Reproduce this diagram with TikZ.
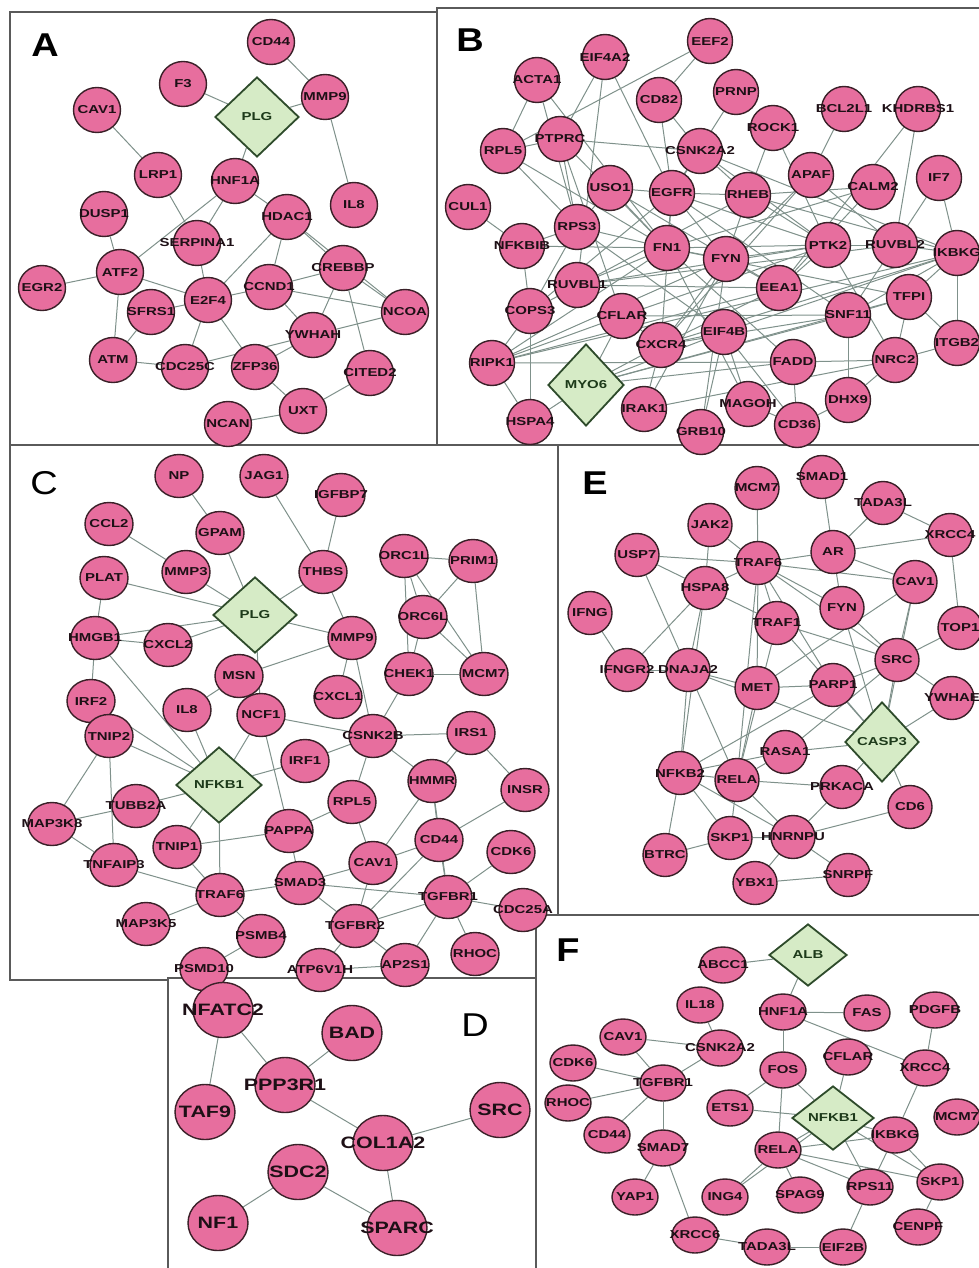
\documentclass[tikz,border=0pt]{standalone}
\usepackage{fontspec}
\usetikzlibrary{shapes.geometric}
\newfontfamily\labfont[FakeStretch=1.3]{Liberation Sans}
\newfontfamily\panfont[FakeStretch=1.15]{Liberation Sans}
\definecolor{pinkf}{HTML}{E76E9E}
\definecolor{pinkd}{HTML}{3A2028}
\definecolor{greenf}{HTML}{D6EBC6}
\definecolor{greend}{HTML}{2E4B2B}
\definecolor{greent}{HTML}{1D3A1A}
\definecolor{edgec}{HTML}{7F918B}
\definecolor{framec}{HTML}{5A5A5A}
\definecolor{txt}{HTML}{1E1016}
\pgfdeclarelayer{bg}
\pgfdeclarelayer{edges}
\pgfsetlayers{bg,edges,main}
\tikzset{
 gene/.style={ellipse, draw=pinkd, fill=pinkf, line width=1.4pt, inner sep=0pt},
 nA/.style={gene, minimum width=47, minimum height=45},
 nB/.style={gene, minimum width=45, minimum height=45},
 nC/.style={gene, minimum width=48, minimum height=43},
 nE/.style={gene, minimum width=44, minimum height=43},
 nD/.style={gene, minimum width=60, minimum height=55},
 nF/.style={gene, minimum width=46, minimum height=36},
 dia/.style={diamond, draw=greend, fill=greenf, line width=1.8pt, inner sep=0pt},
 lab/.style={font=\labfont\bfseries\fontsize{11.5}{11.5}\selectfont, text=txt, inner sep=0pt},
 labD/.style={font=\labfont\bfseries\fontsize{16.5}{16.5}\selectfont},
 ed/.style={draw=edgec, line width=1pt},
 frame/.style={draw=framec, line width=2pt, fill=white},
 panel/.style={font=\panfont\bfseries\fontsize{33}{33}\selectfont, text=black, inner sep=0pt},
}
\begin{document}
\begin{tikzpicture}[x=1pt,y=-1pt]
\useasboundingbox (0,0) rectangle (979,1268);
\begin{pgfonlayer}{bg}
\fill[white] (0,0) rectangle (979,1268);
\draw[frame] (10,12) rectangle (437,445);
\draw[frame] (437,8) rectangle (990,445);
\draw[frame] (10,445) rectangle (558,980);
\draw[frame] (558,445) rectangle (990,915);
\draw[frame] (168,978) rectangle (536,1280);
\draw[frame] (536,915) rectangle (990,1280);
\end{pgfonlayer}
% panel letters
\node[panel] (LA) at (45,45) {A};
\node[panel] (LB) at (470,40) {B};
\node[panel, font=\panfont\fontsize{33}{33}\selectfont] (LC) at (44,483) {C};
\node[panel] (LE) at (595,483) {E};
\node[panel, font=\panfont\fontsize{33}{33}\selectfont] (LD) at (475,1025) {D};
\node[panel] (LF) at (568,950) {F};

% ---------------- Panel A
\foreach \n/\x/\y/\t in {aCD44/271/42/CD44, aF3/183/84/F3, aMMP9/325/97/MMP9, aCAV1/97/110/CAV1, aLRP1/158/175/LRP1, aHNF1A/235/181/HNF1A, aIL8/354/205/IL8, aDUSP1/104/214/DUSP1, aHDAC1/287/217/HDAC1, aSERP/197/243/SERPINA1, aCREBBP/343/268/CREBBP, aATF2/120/272/ATF2, aEGR2/42/288/EGR2, aCCND1/269/287/CCND1, aE2F4/208/300/E2F4, aSFRS1/151/312/SFRS1, aNCOA/405/312/NCOA, aYWHAH/313/335/YWHAH, aATM/113/360/ATM, aCDC25C/185/367/CDC25C, aZFP36/255/367/ZFP36, aCITED2/370/373/CITED2, aUXT/303/411/UXT, aNCAN/228/424/NCAN}
  \node[nA, label={[lab]center:\t}] (\n) at (\x,\y) {};
\node[dia, minimum width=84, minimum height=80, label={[lab,text=greent]center:PLG}] (aPLG) at (257,117) {};

% ---------------- Panel B
\foreach \n/\x/\y/\t in {bEEF2/710/41/EEF2, bEIF4A2/605/57/EIF4A2, bACTA1/537/80/ACTA1, bCD82/659/100/CD82, bPRNP/736/92/PRNP, bROCK1/773/128/ROCK1, bBCL2L1/844/109/BCL2L1, bKHDRBS1/918/109/KHDRBS1, bRPL5/503/151/RPL5, bPTPRC/560/139/PTPRC, bCSNK2A2/700/151/CSNK2A2, bAPAF/811/175/APAF, bCALM2/873/187/CALM2, bIF7/939/178/IF7, bCUL1/468/207/CUL1, bUSO1/610/188/USO1, bEGFR/672/193/EGFR, bRHEB/748/195/RHEB, bRPS3/577/227/RPS3, bNFKBIB/522/246/NFKBIB, bFN1/667/248/FN1, bFYN/726/259/FYN, bPTK2/828/245/PTK2, bRUVBL2/895/245/RUVBL2, bIKBKG/957/253/IKBKG, bRUVBL1/577/285/RUVBL1, bEEA1/779/288/EEA1, bTFPI/909/297/TFPI, bCOPS3/530/311/COPS3, bCFLAR/622/316/CFLAR, bSNF11/848/315/SNF11, bCXCR4/661/345/CXCR4, bEIF4B/724/332/EIF4B, bITGB2/957/343/ITGB2, bRIPK1/492/363/RIPK1, bFADD/793/362/FADD, bNRC2/895/360/NRC2, bHSPA4/530/422/HSPA4, bIRAK1/644/409/IRAK1, bMAGOH/748/404/MAGOH, bDHX9/848/400/DHX9, bGRB10/701/432/GRB10, bCD36/797/425/CD36}
  \node[nB, label={[lab]center:\t}] (\n) at (\x,\y) {};
\node[dia, minimum width=76, minimum height=82, label={[lab,text=greent]center:MYO6}] (bMYO6) at (586,385) {};

% ---------------- Panel C
\foreach \n/\x/\y/\t in {cNP/179/476/NP, cJAG1/264/476/JAG1, cIGFBP7/341/495/IGFBP7, cCCL2/109/524/CCL2, cGPAM/220/533/GPAM, cPLAT/104/578/PLAT, cMMP3/186/572/MMP3, cTHBS/323/572/THBS, cORC1L/404/556/ORC1L, cPRIM1/473/561/PRIM1, cHMGB1/95/638/HMGB1, cCXCL2/168/645/CXCL2, cMMP9/352/638/MMP9, cORC6L/423/617/ORC6L, cMSN/239/676/MSN, cCHEK1/409/674/CHEK1, cMCM/484/674/MCM7, cIRF2/91/701/IRF2, cCXCL1/338/697/CXCL1, cIL8/187/710/IL8, cNCF1/261/715/NCF1, cTNIP2/109/736/TNIP2, cCSNK2B/373/736/CSNK2B, cIRS1/471/733/IRS1, cIRF1/305/761/IRF1, cHMMR/432/781/HMMR, cINSR/525/790/INSR, cTUBB2A/136/806/TUBB2A, cRPL5/352/802/RPL5, cMAP3K8/52/824/MAP3K8, cPAPPA/289/831/PAPPA, cTNIP1/177/847/TNIP1, cCD44/439/840/CD44, cCDK6/511/852/CDK6, cTNFAIP3/114/865/TNFAIP3, cCAV1/373/863/CAV1, cSMAD3/300/883/SMAD3, cTRAF6/220/895/TRAF6, cTGFBR1/448/897/TGFBR1, cCDC25/523/910/CDC25A, cMAP3K5/146/924/MAP3K5, cTGFBR2/355/926/TGFBR2, cPSMB4/261/936/PSMB4, cPSMD10/204/969/PSMD10, cATP6V1H/320/970/ATP6V1H, cAP2S1/405/965/AP2S1, cRHOC/475/954/RHOC}
  \node[nC, label={[lab]center:\t}] (\n) at (\x,\y) {};
\node[dia, minimum width=84, minimum height=76, label={[lab,text=greent]center:PLG}] (cPLG) at (255,615) {};
\node[dia, minimum width=86, minimum height=76, label={[lab,text=greent]center:NFKB1}] (cNFKB1) at (219,785) {};

% ---------------- Panel E
\foreach \n/\x/\y/\t in {eMCM7/757/488/MCM7, eSMAD1/822/477/SMAD1, eTADA3L/883/503/TADA3L, eXRCC4/950/535/XRCC4, eJAK2/710/525/JAK2, eUSP7/637/555/USP7, eTRAF6/758/563/TRAF6, eAR/833/552/AR, eCAV1/915/582/CAV1, eHSPA8/705/588/HSPA8, eFYN/842/608/FYN, eTRAF1/777/623/TRAF1, eIFNG/590/613/IFNG, eTOP1/960/628/TOP1, eSRC/897/660/SRC, eIFNGR2/627/670/IFNGR2, eDNAJA2/688/670/DNAJA2, eMET/757/688/MET, ePARP1/833/685/PARP1, eYWHAE/952/698/YWHAE, eRASA1/785/752/RASA1, eNFKB2/680/773/NFKB2, eRELA/737/780/RELA, ePRKACA/842/787/PRKACA, eCD6/910/807/CD6, eSKP1/730/838/SKP1, eHNRNPU/793/837/HNRNPU, eBTRC/665/855/BTRC, eYBX1/755/883/YBX1, eSNRPF/848/875/SNRPF}
  \node[nE, label={[lab]center:\t}] (\n) at (\x,\y) {};
\node[dia, minimum width=74, minimum height=80, label={[lab,text=greent]center:CASP3}] (eCASP3) at (882,742) {};

% ---------------- Panel D
\foreach \n/\x/\y/\t in {dNFATC2/223/1010/NFATC2, dBAD/352/1033/BAD, dPPP3R1/285/1085/PPP3R1, dTAF9/205/1112/TAF9, dSRC/500/1110/SRC, dCOL1A2/383/1143/COL1A2, dSDC2/298/1172/SDC2, dNF1/218/1223/NF1, dSPARC/397/1228/SPARC}
  \node[nD, label={[lab,labD]center:\t}] (\n) at (\x,\y) {};

% ---------------- Panel F
\foreach \n/\x/\y/\t in {fABCC1/723/965/ABCC1, fIL18/700/1005/IL18, fHNF1A/783/1012/HNF1A, fFAS/867/1013/FAS, fPDGFB/935/1010/PDGFB, fCAV1/623/1037/CAV1, fCSNK2A2/720/1048/CSNK2A2, fCFLAR/848/1057/CFLAR, fCDK6/573/1063/CDK6, fFOS/783/1070/FOS, fXRCC4/925/1068/XRCC4, fTGFBR1/663/1083/TGFBR1, fRHOC/568/1103/RHOC, fETS1/730/1108/ETS1, fMCM7/957/1117/MCM7, fIKBKG/895/1135/IKBKG, fCD44/607/1135/CD44, fSMAD7/663/1148/SMAD7, fRELA/778/1150/RELA, fRPS11/870/1187/RPS11, fSKP1/940/1182/SKP1, fYAP1/635/1197/YAP1, fING4/725/1197/ING4, fSPAG9/800/1195/SPAG9, fCENPF/918/1227/CENPF, fXRCC6/695/1235/XRCC6, fTADA3L/767/1247/TADA3L, fEIF2/843/1247/EIF2B}
  \node[nF, label={[lab]center:\t}] (\n) at (\x,\y) {};
\node[dia, minimum width=78, minimum height=62, label={[lab,text=greent]center:ALB}] (fALB) at (808,955) {};
\node[dia, minimum width=82, minimum height=64, label={[lab,text=greent]center:NFKB1}] (fNFKB1) at (833,1118) {};

% ---------------- Edges
\begin{pgfonlayer}{edges}
\foreach \s/\d in {aF3/aPLG, aCD44/aMMP9, aMMP9/aPLG, aMMP9/aIL8, aPLG/aHNF1A, aCAV1/aLRP1, aLRP1/aSERP, aHNF1A/aSERP, aHNF1A/aATF2, aHNF1A/aHDAC1, aDUSP1/aATF2, aHDAC1/aCREBBP, aHDAC1/aCCND1, aHDAC1/aE2F4, aHDAC1/aNCOA, aATF2/aEGR2, aATF2/aE2F4, aATF2/aATM, aSERP/aE2F4, aE2F4/aSFRS1, aE2F4/aCCND1, aE2F4/aCDC25C, aE2F4/aZFP36, aCCND1/aCREBBP, aCCND1/aNCOA, aCCND1/aYWHAH, aCREBBP/aNCOA, aCREBBP/aCITED2, aCREBBP/aYWHAH, aYWHAH/aNCOA, aYWHAH/aCDC25C, aSFRS1/aATM, aATM/aCDC25C, aZFP36/aUXT, aUXT/aNCAN, aUXT/aCITED2, aZFP36/aYWHAH}
  \draw[ed] (\s) -- (\d);
\foreach \s/\d in {bEEF2/bRPL5, bEEF2/bCD82, bEIF4A2/bEGFR, bEIF4A2/bRUVBL1, bEIF4A2/bPTPRC, bACTA1/bRPL5, bACTA1/bRPS3, bACTA1/bFN1, bCD82/bEGFR, bCD82/bCSNK2A2, bPRNP/bEGFR, bROCK1/bRHEB, bROCK1/bPTK2, bBCL2L1/bAPAF, bKHDRBS1/bEEA1, bKHDRBS1/bRUVBL2, bRPL5/bPTPRC, bRPL5/bRPS3, bRPL5/bFN1, bPTPRC/bCSNK2A2, bPTPRC/bRPS3, bPTPRC/bCFLAR, bPTPRC/bFN1, bCSNK2A2/bRHEB, bCSNK2A2/bPTK2, bCSNK2A2/bIKBKG, bCSNK2A2/bEGFR, bAPAF/bFYN, bAPAF/bCXCR4, bAPAF/bRUVBL2, bCALM2/bRHEB, bCALM2/bEEA1, bCALM2/bFN1, bIF7/bRUVBL2, bIF7/bIKBKG, bCUL1/bNFKBIB, bUSO1/bEGFR, bUSO1/bRPS3, bUSO1/bFN1, bUSO1/bEEA1, bEGFR/bRHEB, bEGFR/bFN1, bEGFR/bFYN, bEGFR/bPTK2, bEGFR/bSNF11, bEGFR/bCOPS3, bEGFR/bCXCR4, bRHEB/bPTK2, bRHEB/bFYN, bRHEB/bCOPS3, bRHEB/bIKBKG, bRPS3/bFN1, bRPS3/bCOPS3, bRPS3/bEIF4B, bNFKBIB/bFN1, bNFKBIB/bCOPS3, bNFKBIB/bRPS3, bFN1/bPTK2, bFN1/bFYN, bFN1/bRUVBL1, bFN1/bFADD, bFN1/bTFPI, bFN1/bRIPK1, bFN1/bMAGOH, bFYN/bPTK2, bFYN/bEEA1, bFYN/bCXCR4, bFYN/bGRB10, bFYN/bRIPK1, bFYN/bIRAK1, bPTK2/bRUVBL2, bPTK2/bEEA1, bPTK2/bCFLAR, bPTK2/bRUVBL1, bPTK2/bNRC2, bRUVBL2/bIKBKG, bRUVBL2/bRUVBL1, bRUVBL2/bSNF11, bIKBKG/bTFPI, bIKBKG/bITGB2, bIKBKG/bEIF4B, bIKBKG/bRIPK1, bIKBKG/bCXCR4, bIKBKG/bSNF11, bRUVBL1/bEEA1, bEEA1/bCXCR4, bEEA1/bRIPK1, bTFPI/bSNF11, bTFPI/bITGB2, bTFPI/bNRC2, bCOPS3/bRIPK1, bCOPS3/bHSPA4, bCFLAR/bCXCR4, bCFLAR/bMYO6, bCFLAR/bSNF11, bSNF11/bCXCR4, bSNF11/bMYO6, bSNF11/bDHX9, bCXCR4/bEIF4B, bCXCR4/bMYO6, bEIF4B/bMYO6, bEIF4B/bMAGOH, bEIF4B/bCD36, bRIPK1/bFADD, bRIPK1/bHSPA4, bRIPK1/bCFLAR, bMYO6/bHSPA4, bMYO6/bFADD, bMYO6/bTFPI, bFADD/bNRC2, bFADD/bCD36, bNRC2/bITGB2, bNRC2/bDHX9, bMAGOH/bCD36, bCD36/bDHX9, bIRAK1/bCXCR4, bIRAK1/bNRC2, bGRB10/bEIF4B}
  \draw[ed] (\s) -- (\d);
\foreach \s/\d in {cNP/cGPAM, cGPAM/cPLG, cJAG1/cTHBS, cIGFBP7/cTHBS, cCCL2/cMMP3, cMMP3/cPLG, cPLAT/cPLG, cPLAT/cHMGB1, cTHBS/cPLG, cTHBS/cMMP9, cPLG/cMMP9, cPLG/cCXCL2, cPLG/cHMGB1, cHMGB1/cCXCL2, cHMGB1/cIRF2, cHMGB1/cNFKB1, cPLG/cNCF1, cMSN/cMMP9, cMSN/cIL8, cMMP9/cCXCL1, cMMP9/cCSNK2B, cORC1L/cPRIM1, cORC1L/cORC6L, cORC1L/cCHEK1, cORC1L/cMCM, cPRIM1/cMCM, cPRIM1/cORC6L, cORC6L/cCHEK1, cORC6L/cMCM, cCHEK1/cMCM, cCHEK1/cCSNK2B, cIRF2/cNFKB1, cIL8/cNFKB1, cNCF1/cNFKB1, cNCF1/cCSNK2B, cNCF1/cPAPPA, cTNIP2/cNFKB1, cTNIP2/cMAP3K8, cTNIP2/cTNFAIP3, cNFKB1/cTUBB2A, cNFKB1/cIRF1, cNFKB1/cTRAF6, cNFKB1/cTNIP1, cMAP3K8/cTUBB2A, cMAP3K8/cTNFAIP3, cTNIP1/cPAPPA, cTNIP1/cTRAF6, cTNFAIP3/cTRAF6, cIRF1/cCSNK2B, cCSNK2B/cIRS1, cCSNK2B/cRPL5, cCSNK2B/cHMMR, cIRS1/cHMMR, cIRS1/cINSR, cINSR/cCD44, cHMMR/cCD44, cHMMR/cTGFBR1, cHMMR/cCAV1, cRPL5/cPAPPA, cRPL5/cCAV1, cCD44/cCAV1, cCD44/cTGFBR1, cCD44/cTGFBR2, cCAV1/cSMAD3, cCAV1/cTGFBR2, cSMAD3/cTRAF6, cSMAD3/cTGFBR1, cSMAD3/cTGFBR2, cSMAD3/cPAPPA, cTRAF6/cMAP3K5, cTRAF6/cPSMB4, cPSMB4/cPSMD10, cTGFBR1/cTGFBR2, cTGFBR1/cCDC25, cTGFBR1/cRHOC, cTGFBR1/cCDK6, cTGFBR1/cAP2S1, cTGFBR2/cATP6V1H, cATP6V1H/cAP2S1, cTGFBR2/cAP2S1}
  \draw[ed] (\s) -- (\d);
\foreach \s/\d in {eMCM7/eTRAF6, eSMAD1/eAR, eTADA3L/eXRCC4, eTADA3L/eAR, eJAK2/eTRAF6, eJAK2/eHSPA8, eUSP7/eTRAF6, eUSP7/eHSPA8, eUSP7/eDNAJA2, eAR/eXRCC4, eAR/eTRAF6, eAR/eCAV1, eAR/eFYN, eTRAF6/eHSPA8, eTRAF6/eCAV1, eTRAF6/eTRAF1, eTRAF6/eFYN, eTRAF6/eSRC, eTRAF6/ePARP1, eTRAF6/eMET, eTRAF6/eRELA, eHSPA8/eTRAF1, eHSPA8/eDNAJA2, eHSPA8/eNFKB2, eHSPA8/eIFNGR2, eCAV1/eSRC, eCAV1/eCASP3, eCAV1/eMET, eXRCC4/eTOP1, eFYN/eSRC, eFYN/eCASP3, eTRAF1/eSRC, eTRAF1/eRELA, eTRAF1/eCASP3, eIFNG/eIFNGR2, eIFNGR2/eDNAJA2, eDNAJA2/eMET, eDNAJA2/eNFKB2, eDNAJA2/eRELA, eDNAJA2/eCASP3, eMET/ePARP1, eMET/eRELA, ePARP1/eSRC, ePARP1/eCASP3, ePARP1/eNFKB2, eSRC/eCASP3, eSRC/eYWHAE, eSRC/eRASA1, eYWHAE/eCASP3, eTOP1/eSRC, eCASP3/eRASA1, eCASP3/ePRKACA, eCASP3/eCD6, eRASA1/eNFKB2, eRASA1/eRELA, eRELA/eNFKB2, eRELA/ePRKACA, eRELA/eSKP1, eRELA/eHNRNPU, eNFKB2/eBTRC, eNFKB2/eSKP1, eNFKB2/eHNRNPU, eSKP1/eBTRC, eSKP1/eHNRNPU, eHNRNPU/eCD6, eHNRNPU/eSNRPF, eHNRNPU/eYBX1, eYBX1/eSNRPF, ePRKACA/eHNRNPU}
  \draw[ed] (\s) -- (\d);
\foreach \s/\d in {dNFATC2/dTAF9, dNFATC2/dPPP3R1, dBAD/dPPP3R1, dPPP3R1/dCOL1A2, dCOL1A2/dSRC, dCOL1A2/dSPARC, dSDC2/dSPARC, dSDC2/dNF1}
  \draw[ed] (\s) -- (\d);
\foreach \s/\d in {fABCC1/fALB, fALB/fHNF1A, fHNF1A/fFAS, fHNF1A/fFOS, fHNF1A/fXRCC4, fIL18/fCSNK2A2, fCAV1/fCSNK2A2, fCAV1/fTGFBR1, fCDK6/fTGFBR1, fRHOC/fTGFBR1, fCD44/fTGFBR1, fCSNK2A2/fTGFBR1, fTGFBR1/fSMAD7, fFOS/fRELA, fFOS/fNFKB1, fCFLAR/fNFKB1, fETS1/fNFKB1, fETS1/fFOS, fPDGFB/fXRCC4, fXRCC4/fIKBKG, fIKBKG/fNFKB1, fNFKB1/fRELA, fNFKB1/fRPS11, fNFKB1/fSKP1, fNFKB1/fING4, fIKBKG/fRELA, fIKBKG/fSKP1, fRELA/fING4, fRELA/fSPAG9, fRELA/fRPS11, fRELA/fSKP1, fSMAD7/fYAP1, fSMAD7/fXRCC6, fXRCC6/fTADA3L, fTADA3L/fEIF2, fEIF2/fRPS11, fSKP1/fCENPF, fRPS11/fIKBKG}
  \draw[ed] (\s) -- (\d);
\end{pgfonlayer}
\end{tikzpicture}
\end{document}
